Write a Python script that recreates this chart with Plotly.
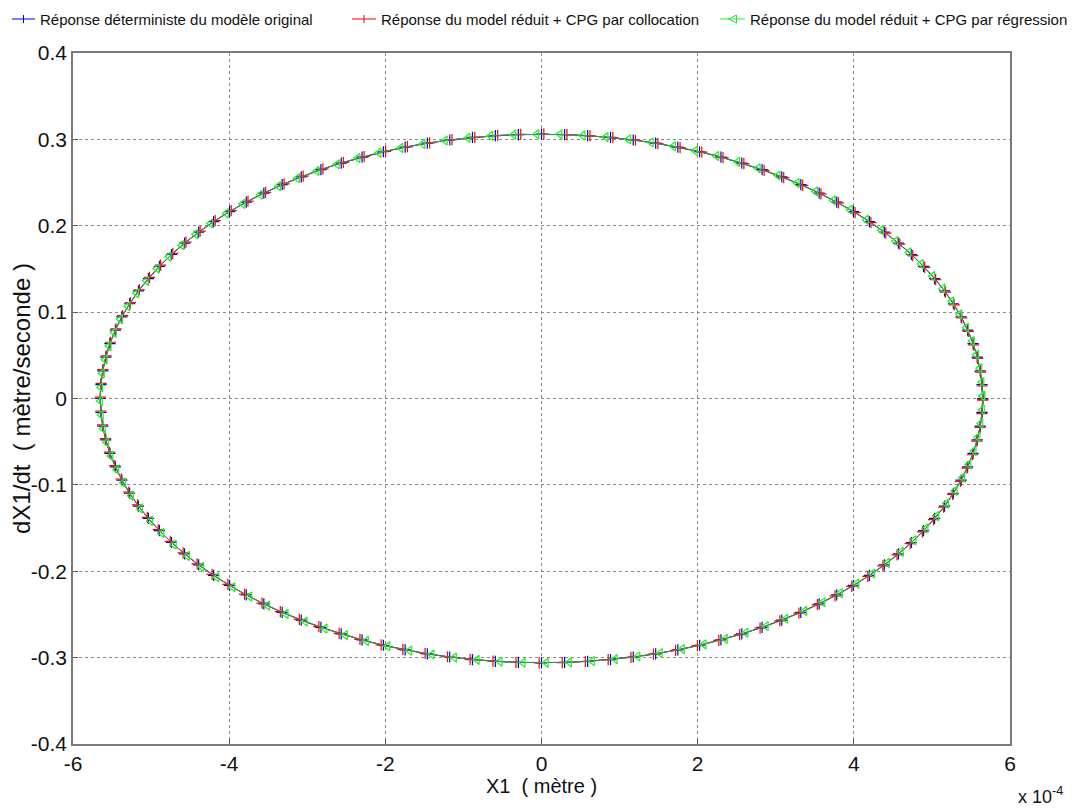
import plotly.graph_objects as go

# X1 values are in units of 1e-4 m (axis shows "x 10^-4"); dX1/dt in m/s
orig_x = [5.650,5.642,5.619,5.580,5.527,5.457,5.374,5.275,5.162,5.034,4.893,4.738,4.571,4.391,4.199,3.995,3.781,3.556,3.321,3.077,2.825,2.565,2.298,2.025,1.746,1.462,1.175,0.884,0.591,0.296,
          0,-0.296,-0.591,-0.884,-1.175,-1.462,-1.746,-2.025,-2.298,-2.565,-2.825,-3.077,-3.321,-3.556,-3.781,-3.995,-4.199,-4.391,-4.571,-4.738,-4.893,-5.034,-5.162,-5.275,-5.374,-5.457,-5.527,-5.580,-5.619,-5.642,
          -5.650,-5.642,-5.619,-5.580,-5.527,-5.457,-5.374,-5.275,-5.162,-5.034,-4.893,-4.738,-4.571,-4.391,-4.199,-3.995,-3.781,-3.556,-3.321,-3.077,-2.825,-2.565,-2.298,-2.025,-1.746,-1.462,-1.175,-0.884,-0.591,-0.296,
          0,0.296,0.591,0.884,1.175,1.462,1.746,2.025,2.298,2.565,2.825,3.077,3.321,3.556,3.781,3.995,4.199,4.391,4.571,4.738,4.893,5.034,5.162,5.275,5.374,5.457,5.527,5.580,5.619,5.642,5.650]
orig_v = [0,-0.016,-0.032,-0.0479,-0.0636,-0.0792,-0.0946,-0.1097,-0.1245,-0.1389,-0.153,-0.1667,-0.1799,-0.1926,-0.2048,-0.2164,-0.2274,-0.2378,-0.2476,-0.2566,-0.265,-0.2726,-0.2795,-0.2857,-0.291,-0.2956,-0.2993,-0.3022,-0.3043,-0.3056,
          -0.306,-0.3056,-0.3043,-0.3022,-0.2993,-0.2956,-0.291,-0.2857,-0.2795,-0.2726,-0.265,-0.2566,-0.2476,-0.2378,-0.2274,-0.2164,-0.2048,-0.1926,-0.1799,-0.1667,-0.153,-0.1389,-0.1245,-0.1097,-0.0946,-0.0792,-0.0636,-0.0479,-0.032,-0.016,
          0,0.016,0.032,0.0479,0.0636,0.0792,0.0946,0.1097,0.1245,0.1389,0.153,0.1667,0.1799,0.1926,0.2048,0.2164,0.2274,0.2378,0.2476,0.2566,0.265,0.2726,0.2795,0.2857,0.291,0.2956,0.2993,0.3022,0.3043,0.3056,
          0.306,0.3056,0.3043,0.3022,0.2993,0.2956,0.291,0.2857,0.2795,0.2726,0.265,0.2566,0.2476,0.2378,0.2274,0.2164,0.2048,0.1926,0.1799,0.1667,0.153,0.1389,0.1245,0.1097,0.0946,0.0792,0.0636,0.0479,0.032,0.016,0]

coll_x = [5.650,5.640,5.616,5.575,5.521,5.449,5.365,5.264,5.150,5.020,4.878,4.722,4.553,4.372,4.179,3.974,3.759,3.533,3.297,3.052,2.799,2.538,2.271,1.997,1.717,1.433,1.146,0.854,0.561,0.266,
          -0.030,-0.326,-0.621,-0.914,-1.204,-1.491,-1.775,-2.053,-2.325,-2.592,-2.851,-3.102,-3.345,-3.579,-3.803,-4.016,-4.219,-4.410,-4.589,-4.754,-4.908,-5.048,-5.174,-5.286,-5.383,-5.465,-5.533,-5.585,-5.622,-5.644,
          -5.650,-5.640,-5.616,-5.575,-5.521,-5.449,-5.365,-5.264,-5.150,-5.020,-4.878,-4.722,-4.553,-4.372,-4.179,-3.974,-3.759,-3.533,-3.297,-3.052,-2.799,-2.538,-2.271,-1.997,-1.717,-1.433,-1.146,-0.854,-0.561,-0.266,
          0.030,0.326,0.621,0.914,1.204,1.491,1.775,2.053,2.325,2.592,2.851,3.102,3.345,3.579,3.803,4.016,4.219,4.410,4.589,4.754,4.908,5.048,5.174,5.286,5.383,5.465,5.533,5.585,5.622,5.644,5.650]
coll_v = [-0.0015,-0.0175,-0.0335,-0.0494,-0.0651,-0.0806,-0.0960,-0.1111,-0.1259,-0.1402,-0.1543,-0.1680,-0.1811,-0.1938,-0.2059,-0.2175,-0.2284,-0.2387,-0.2485,-0.2574,-0.2658,-0.2733,-0.2801,-0.2862,-0.2915,-0.2960,-0.2996,-0.3024,-0.3045,-0.3057,
          -0.306,-0.3055,-0.3041,-0.3020,-0.2990,-0.2952,-0.2905,-0.2852,-0.2789,-0.2719,-0.2642,-0.2558,-0.2467,-0.2369,-0.2264,-0.2153,-0.2037,-0.1914,-0.1787,-0.1654,-0.1517,-0.1376,-0.1231,-0.1083,-0.0932,-0.0778,-0.0621,-0.0464,-0.0305,-0.0145,
          0.0015,0.0175,0.0335,0.0494,0.0651,0.0806,0.0960,0.1111,0.1259,0.1402,0.1543,0.1680,0.1811,0.1938,0.2059,0.2175,0.2284,0.2387,0.2485,0.2574,0.2658,0.2733,0.2801,0.2862,0.2915,0.2960,0.2996,0.3024,0.3045,0.3057,
          0.306,0.3055,0.3041,0.3020,0.2990,0.2952,0.2905,0.2852,0.2789,0.2719,0.2642,0.2558,0.2467,0.2369,0.2264,0.2153,0.2037,0.1914,0.1787,0.1654,0.1517,0.1376,0.1231,0.1083,0.0932,0.0778,0.0621,0.0464,0.0305,0.0145,-0.0015]

regr_x = [5.650,5.645,5.625,5.589,5.539,5.473,5.393,5.296,5.186,5.061,4.923,4.771,4.606,4.429,4.239,4.037,3.826,3.603,3.370,3.127,2.877,2.618,2.353,2.081,1.803,1.520,1.234,0.943,0.651,0.356,
          0.060,-0.236,-0.531,-0.825,-1.116,-1.404,-1.689,-1.969,-2.243,-2.512,-2.773,-3.027,-3.272,-3.509,-3.736,-3.953,-4.159,-4.353,-4.536,-4.705,-4.863,-5.007,-5.138,-5.254,-5.355,-5.441,-5.515,-5.571,-5.613,-5.639,
          -5.650,-5.645,-5.625,-5.589,-5.539,-5.473,-5.393,-5.296,-5.186,-5.061,-4.923,-4.771,-4.606,-4.429,-4.239,-4.037,-3.826,-3.603,-3.370,-3.127,-2.877,-2.618,-2.353,-2.081,-1.803,-1.520,-1.234,-0.943,-0.651,-0.356,
          -0.060,0.236,0.531,0.825,1.116,1.404,1.689,1.969,2.243,2.512,2.773,3.027,3.272,3.509,3.736,3.953,4.159,4.353,4.536,4.705,4.863,5.007,5.138,5.254,5.355,5.441,5.515,5.571,5.613,5.639,5.650]
regr_v = [0.003,-0.013,-0.029,-0.0449,-0.0607,-0.0763,-0.0917,-0.1069,-0.1218,-0.1362,-0.1504,-0.1642,-0.1775,-0.1903,-0.2026,-0.2143,-0.2254,-0.2359,-0.2458,-0.2550,-0.2635,-0.2712,-0.2783,-0.2846,-0.2901,-0.2948,-0.2987,-0.3017,-0.3040,-0.3054,
          -0.306,-0.3058,-0.3046,-0.3027,-0.2999,-0.2964,-0.2919,-0.2868,-0.2807,-0.2740,-0.2665,-0.2582,-0.2494,-0.2397,-0.2294,-0.2185,-0.2070,-0.1949,-0.1823,-0.1692,-0.1556,-0.1416,-0.1272,-0.1125,-0.0975,-0.0821,-0.0665,-0.0509,-0.035,-0.019,
          -0.003,0.013,0.029,0.0449,0.0607,0.0763,0.0917,0.1069,0.1218,0.1362,0.1504,0.1642,0.1775,0.1903,0.2026,0.2143,0.2254,0.2359,0.2458,0.2550,0.2635,0.2712,0.2783,0.2846,0.2901,0.2948,0.2987,0.3017,0.3040,0.3054,
          0.306,0.3058,0.3046,0.3027,0.2999,0.2964,0.2919,0.2868,0.2807,0.2740,0.2665,0.2582,0.2494,0.2397,0.2294,0.2185,0.2070,0.1949,0.1823,0.1692,0.1556,0.1416,0.1272,0.1125,0.0975,0.0821,0.0665,0.0509,0.035,0.019,0.003]

series_names = ["Réponse déterministe du modèle original",
                "Réponse du model réduit + CPG par collocation",
                "Réponse du model réduit + CPG par régression"]

x_tickvals = [-6, -4, -2, 0, 2, 4, 6]
x_ticktext = ["-6", "-4", "-2", "0", "2", "4", "6"]
y_tickvals = [-0.4, -0.3, -0.2, -0.1, 0, 0.1, 0.2, 0.3, 0.4]
y_ticktext = ["-0.4", "-0.3", "-0.2", "-0.1", "0", "0.1", "0.2", "0.3", "0.4"]

FONT = "Liberation Sans, Arial, sans-serif"

# figure geometry (page body adds an 8 px offset)
W, H = 1068, 803
ML, MR, MT, MB = 65, 66, 45, 67
PW, PH = W - ML - MR, H - MT - MB

def px(fx):
    return (fx - ML) / PW

def py(fy):
    return 1 - (fy - MT) / PH

line_cols = ["#1a1aa0", "#C02020", "#20A060"]
mark_cols = ["#0000E0", "#FF0000", "#22EE22"]
mark_syms = ["cross-thin-open", "cross-thin-open", "triangle-left-open"]

fig = go.Figure()
for xs, ys, nm, lc, mc, ms in zip([orig_x, coll_x, regr_x], [orig_v, coll_v, regr_v],
                                  series_names, line_cols, mark_cols, mark_syms):
    fig.add_trace(go.Scatter(x=xs, y=ys, mode="lines+markers", name=nm, showlegend=False,
                             line=dict(color=lc, width=1),
                             marker=dict(symbol=ms, size=8, color=mc, line=dict(color=mc, width=1.2))))

# legend drawn along the top edge (figure pixel positions)
leg_y = 11
leg_items = [(4, 27, 30), (344, 368, 371), (712, 737, 740)]  # line start, line end, text start
shapes = []
annotations = []
for i, (x0, x1, tx) in enumerate(leg_items):
    shapes.append(dict(type="line", xref="paper", yref="paper", x0=px(x0), x1=px(x1),
                       y0=py(leg_y), y1=py(leg_y), line=dict(color=mark_cols[i], width=1)))
    cx = (x0 + x1) / 2
    if i < 2:
        shapes.append(dict(type="line", xref="paper", yref="paper", x0=px(cx), x1=px(cx),
                           y0=py(leg_y - 4), y1=py(leg_y + 4), line=dict(color=mark_cols[i], width=1)))
    else:
        path = "M {} {} L {} {} L {} {} Z".format(px(cx - 4), py(leg_y), px(cx + 4), py(leg_y - 4),
                                                  px(cx + 4), py(leg_y + 4))
        shapes.append(dict(type="path", xref="paper", yref="paper", path=path,
                           line=dict(color=mark_cols[i], width=1)))
    annotations.append(dict(text=series_names[i], xref="paper", yref="paper", x=px(tx), y=py(leg_y),
                            xanchor="left", yanchor="middle", showarrow=False,
                            font=dict(family=FONT, size=15, color="#111111")))

annotations.append(dict(text="x 10<sup>-4</sup>", xref="paper", yref="paper", x=px(1032), y=py(787),
                        xanchor="center", yanchor="middle", showarrow=False,
                        font=dict(family=FONT, size=18, color="#111111")))

axis_common = dict(showgrid=True, griddash="dot", gridcolor="#8a8a8a", gridwidth=1,
                   showline=True, linecolor="#7a7a7a", linewidth=1.5, mirror=True,
                   ticks="inside", ticklen=5, tickcolor="#555555", zeroline=False,
                   tickfont=dict(family=FONT, size=21, color="#111111"))

fig.update_layout(
    width=W, height=H,
    paper_bgcolor="white", plot_bgcolor="white",
    margin=dict(l=ML, r=MR, t=MT, b=MB, autoexpand=False),
    font=dict(family=FONT, color="#111111"),
    xaxis=dict(range=[-6, 6], tickvals=x_tickvals, ticktext=x_ticktext,
               title=dict(text="X1  ( mètre )", font=dict(family=FONT, size=20), standoff=4),
               **axis_common),
    yaxis=dict(range=[-0.4, 0.4], tickvals=y_tickvals, ticktext=y_ticktext,
               title=dict(text="dX1/dt  ( mètre/seconde )", font=dict(family=FONT, size=24), standoff=0),
               **axis_common),
    showlegend=False,
    shapes=shapes,
    annotations=annotations,
)

fig.write_html("out.html")
